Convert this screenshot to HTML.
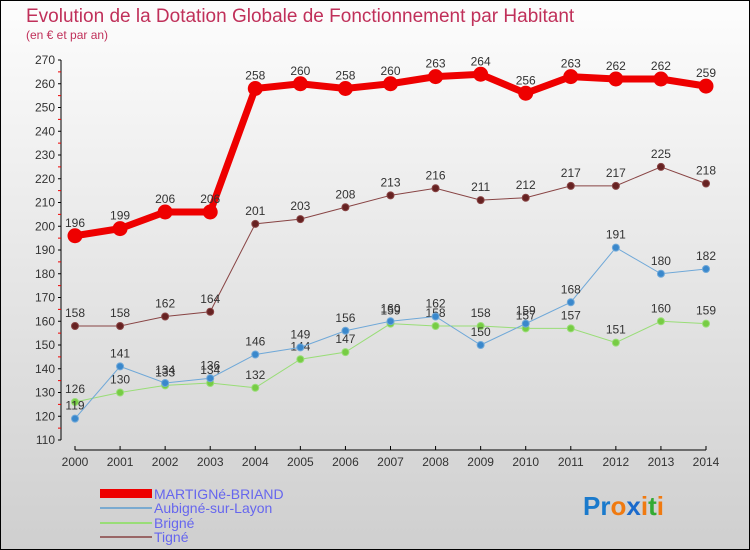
<!DOCTYPE html>
<html><head><meta charset="utf-8"><style>
body{margin:0}
#c{width:750px;height:550px;position:relative;overflow:hidden;box-sizing:border-box;border:1px solid #000;background:linear-gradient(#fdfdfd,#cfcfcf);font-family:"Liberation Sans",sans-serif}
</style></head><body>
<div id="c">
<svg id="s" width="748" height="548" viewBox="1 1 748 548" xmlns="http://www.w3.org/2000/svg" style="position:absolute;left:0;top:0">
<text x="26" y="22" font-size="19" fill="#c0305a">Evolution de la Dotation Globale de Fonctionnement par Habitant</text>
<text x="26" y="39" font-size="12" fill="#c0305a">(en € et par an)</text>
<g id="axes"></g><g id="series"></g>
<g>
<rect x="100" y="489" width="52" height="9" fill="#e00"/>
<text x="154" y="499" font-size="14" fill="#6666ee">MARTIGNé-BRIAND</text>
<line x1="100" y1="508" x2="152" y2="508" stroke="#7aaad0" stroke-width="2"/>
<text x="154" y="513" font-size="14" fill="#6666ee">Aubigné-sur-Layon</text>
<line x1="100" y1="523" x2="152" y2="523" stroke="#99dd77" stroke-width="2"/>
<text x="154" y="528" font-size="14" fill="#6666ee">Brigné</text>
<line x1="100" y1="537" x2="152" y2="537" stroke="#996666" stroke-width="2"/>
<text x="154" y="542" font-size="14" fill="#6666ee">Tigné</text>
</g>
<text x="583" y="515" font-size="26" font-weight="bold"><tspan fill="#1a7acc">Pr</tspan><tspan fill="#f07a10">o</tspan><tspan fill="#1a6acc">x</tspan><tspan fill="#f07a10">i</tspan><tspan fill="#33aa33">t</tspan><tspan fill="#f07a10">i</tspan></text>
</svg>
<script>
const years=[2000,2001,2002,2003,2004,2005,2006,2007,2008,2009,2010,2011,2012,2013,2014];
const yTicks=[110,120,130,140,150,160,170,180,190,200,210,220,230,240,250,260,270];
const martigne=[196,199,206,206,258,260,258,260,263,264,256,263,262,262,259];
const aubigne=[119,141,134,136,146,149,156,160,162,150,159,168,191,180,182];
const brigne=[126,130,133,134,132,144,147,159,158,158,157,157,151,160,159];
const tigne=[158,158,162,164,201,203,208,213,216,211,212,217,217,225,218];
const NS='http://www.w3.org/2000/svg';
const x=i=>75+i*(706-75)/(years.length-1);
const y=v=>440-(v-110)*(380/160);
function mk(t,a,p){const e=document.createElementNS(NS,t);for(const k in a)e.setAttribute(k,a[k]);p.appendChild(e);return e;}
const ax=document.getElementById('axes');
const ya=mk('line',{x1:61,y1:60,x2:61,y2:440,stroke:'#000'},ax);


yTicks.forEach(v=>{
  mk('line',{x1:58,y1:y(v),x2:61,y2:y(v),stroke:'#000'},ax);
  if(v<270){mk('line',{x1:58,y1:y(v+5),x2:61,y2:y(v+5),stroke:'#e00'},ax);}
  const t=mk('text',{x:55,y:y(v)+4,'font-size':12,'text-anchor':'end',fill:'#333'},ax);t.textContent=v;
  
  
});
const xa=mk('line',{x1:75,y1:450,x2:706,y2:450,stroke:'#000'},ax);


years.forEach((yr,i)=>{
  mk('line',{x1:x(i),y1:446,x2:x(i),y2:450,stroke:'#000'},ax);
  const t=mk('text',{x:x(i),y:466,'font-size':12,'text-anchor':'middle',fill:'#333'},ax);t.textContent=yr;
  
  
});
const sg=document.getElementById('series');
function series(name,data,color,dot,w,r,lab){
  const g=mk('g',{},sg);
  
  
  const pl=mk('polyline',{points:data.map((v,i)=>x(i)+','+y(v)).join(' '),fill:'none',stroke:color,'stroke-width':w},g);
  
  
  data.forEach((v,i)=>{
    const c=mk('circle',{cx:x(i),cy:y(v),r:r,fill:dot,stroke:color,'stroke-width':1},g);
    
    
    const t=mk('text',{x:x(i),y:y(v)-9,'font-size':12,'text-anchor':'middle',fill:'#333'},g);t.textContent=v;
    
    
  });
}
series('tigne',tigne,'#884444','#662222',1,3.5);
series('brigne',brigne,'#99dd77','#77cc44',1,3.5);
series('aubigne',aubigne,'#6fa8d8','#3a88cc',1,3.5);
series('martigne',martigne,'#ee0000','#ee0000',7,7);
</script>
</div>
</body></html>
